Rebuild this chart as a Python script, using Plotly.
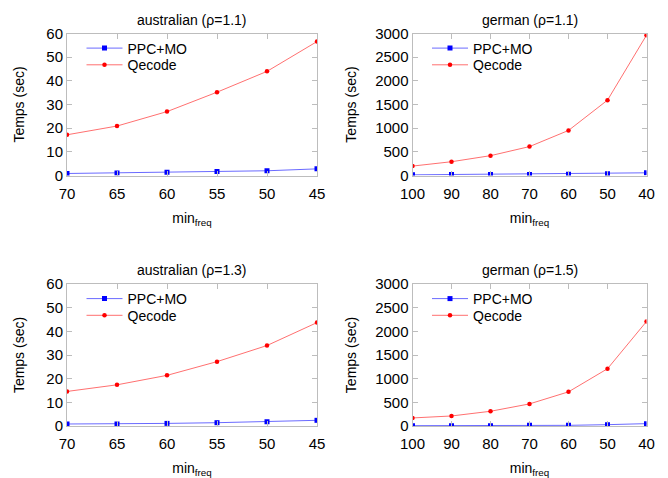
import plotly.graph_objects as go

# Execution times (seconds) for each dataset / rho setting
aus_minfreq = [70, 65, 60, 55, 50, 45]
ger_minfreq = [100, 90, 80, 70, 60, 50, 40]

aus11_ppc = [0.85, 1.1, 1.4, 1.7, 2.0, 2.8]
aus11_qecode = [17.2, 20.9, 27.0, 35.2, 44.0, 56.6]

ger11_ppc = [14, 21, 21, 21, 28, 35, 57]
ger11_qecode = [199, 291, 419, 611, 952, 1592, 2965]

aus13_ppc = [0.85, 0.85, 1.1, 1.4, 1.8, 2.4]
aus13_qecode = [14.6, 17.4, 21.4, 27.2, 34.0, 43.7]

ger15_ppc = [7, 7, 7, 14, 14, 28, 50]
ger15_qecode = [170, 212, 311, 467, 722, 1210, 2208]

titles = ["australian (ρ=1.1)", "german (ρ=1.1)", "australian (ρ=1.3)", "german (ρ=1.5)"]
series_names = ["PPC+MO", "Qecode"]

W, H = 668, 478
FONT = "Liberation Sans, Arial, sans-serif"
FRAME = "#bdbdbd"
BLUE_LINE = "#6a6aff"
RED_LINE = "#ff7070"

panels = [
    dict(x=aus_minfreq, ppc=aus11_ppc, qe=aus11_qecode, ymax=60, dtick=10,
         xdom=(67, 317), ydom=(33.5, 175.5), ystand=18),
    dict(x=ger_minfreq, ppc=ger11_ppc, qe=ger11_qecode, ymax=3000, dtick=500,
         xdom=(412.5, 646.5), ydom=(33.5, 175.5), ystand=15),
    dict(x=aus_minfreq, ppc=aus13_ppc, qe=aus13_qecode, ymax=60, dtick=10,
         xdom=(67, 317), ydom=(284, 426), ystand=18),
    dict(x=ger_minfreq, ppc=ger15_ppc, qe=ger15_qecode, ymax=3000, dtick=500,
         xdom=(412.5, 646.5), ydom=(284, 426), ystand=15),
]

fig = go.Figure()
layout = dict(
    width=W, height=H,
    margin=dict(l=0, r=0, t=0, b=0, autoexpand=False),
    paper_bgcolor="white", plot_bgcolor="white",
    font=dict(family=FONT, size=14, color="black"),
    showlegend=True,
)

annotations = []
legend_idx = 0
for i, p in enumerate(panels):
    n = i + 1
    xa = "x" if n == 1 else f"x{n}"
    ya = "y" if n == 1 else f"y{n}"

    styles = [
        dict(line=dict(color=BLUE_LINE, width=1),
             marker=dict(symbol="square", size=5, color="#0000ff")),
        dict(line=dict(color=RED_LINE, width=1),
             marker=dict(symbol="circle", size=4.5, color="#ff0000")),
    ]
    x0, x1 = p["xdom"][0] / W, p["xdom"][1] / W
    y0, y1 = 1 - p["ydom"][1] / H, 1 - p["ydom"][0] / H

    for k, (vals, st) in enumerate(zip([p["ppc"], p["qe"]], styles)):
        legend_idx += 1
        leg = "legend" if legend_idx == 1 else f"legend{legend_idx}"
        fig.add_trace(go.Scatter(
            x=p["x"], y=vals, mode="lines+markers", name=series_names[k],
            xaxis=xa, yaxis=ya, legend=leg, **st,
        ))
        # one legend box per entry so rows sit close together
        row_y = p["ydom"][0] + 15 + 16.7 * k
        layout[leg] = dict(
            x=x0 + 14.5 / W, y=1 - row_y / H,
            xanchor="left", yanchor="middle",
            bgcolor="rgba(0,0,0,0)", borderwidth=0,
            font=dict(size=14), itemwidth=36,
        )

    xkey = "xaxis" if n == 1 else f"xaxis{n}"
    ykey = "yaxis" if n == 1 else f"yaxis{n}"
    layout[xkey] = dict(
        domain=[x0, x1], anchor=ya, automargin=False,
        range=[p["x"][0], p["x"][-1]], tickvals=p["x"],
        showgrid=False, zeroline=False,
        showline=True, linecolor=FRAME, linewidth=1, mirror="ticks",
        ticks="inside", ticklen=5, tickcolor=FRAME,
        tickfont=dict(size=15), ticklabelstandoff=4,
        title=dict(text="min<sub>freq</sub>", font=dict(size=14), standoff=12),
    )
    layout[ykey] = dict(
        domain=[y0, y1], anchor=xa, automargin=False,
        range=[0, p["ymax"]], dtick=p["dtick"],
        showgrid=False, zeroline=False,
        showline=True, linecolor=FRAME, linewidth=1, mirror="ticks",
        ticks="inside", ticklen=5, tickcolor=FRAME,
        tickfont=dict(size=15),
        title=dict(text="Temps (sec)", font=dict(size=14), standoff=p["ystand"]),
    )
    annotations.append(dict(
        text=titles[i], xref="paper", yref="paper",
        x=(x0 + x1) / 2, y=1 - (p["ydom"][0] - 14) / H,
        xanchor="center", yanchor="middle", showarrow=False,
        font=dict(size=14),
    ))

layout["annotations"] = annotations
fig.update_layout(**layout)
fig.write_html("out.html")
